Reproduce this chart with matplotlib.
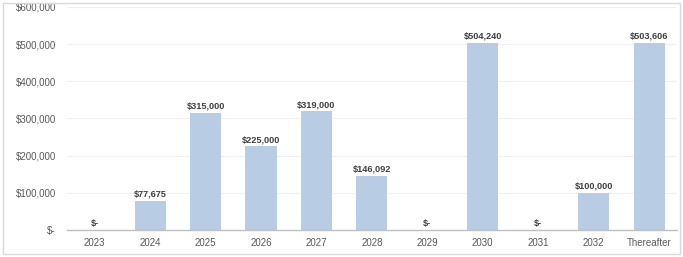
import matplotlib
matplotlib.use("Agg")
import matplotlib.pyplot as plt
from matplotlib.patches import Rectangle
from matplotlib.ticker import FuncFormatter

categories = ['2023', '2024', '2025', '2026', '2027', '2028', '2029', '2030', '2031', '2032', 'Thereafter']
values = [0, 77675, 315000, 225000, 319000, 146092, 0, 504240, 0, 100000, 503606]

plt.rcParams['font.family'] = ['Liberation Sans', 'DejaVu Sans']


def money(v, pos=None):
    if v == 0:
        return '$-'
    return '${:,.0f}'.format(v)


fig = plt.figure(figsize=(6.83, 2.57), dpi=100)
ax = fig.add_axes([0.098, 0.105, 0.893, 0.868])

# outer chart border
fig.patches.append(Rectangle((0.005, 0.012), 0.99, 0.976, transform=fig.transFigure,
                             fill=False, edgecolor='#D9D9D9', linewidth=1.0))

x = range(len(categories))
ax.bar(x, values, width=0.56, color='#B8CCE4', zorder=2)

for i, v in enumerate(values):
    ax.text(i, v + 6000, money(v), ha='center', va='bottom', fontsize=6.6,
            fontweight='bold', color='#404040')

ax.set_ylim(0, 600000)
ax.set_xlim(-0.5, len(categories) - 0.5)
ax.set_yticks(range(0, 600001, 100000))
ax.yaxis.set_major_formatter(FuncFormatter(money))
ax.set_xticks(list(x))
ax.set_xticklabels(categories)
ax.grid(axis='y', color='#F0F0F0', linewidth=0.8, zorder=0)
ax.tick_params(axis='both', length=0, labelsize=7, labelcolor='#595959')
ax.tick_params(axis='x', pad=6)
ax.tick_params(axis='y', pad=8)
for s in ['top', 'right', 'left']:
    ax.spines[s].set_visible(False)
ax.spines['bottom'].set_color('#BFBFBF')
ax.spines['bottom'].set_linewidth(1.0)

fig.savefig('out.png', dpi=100)
